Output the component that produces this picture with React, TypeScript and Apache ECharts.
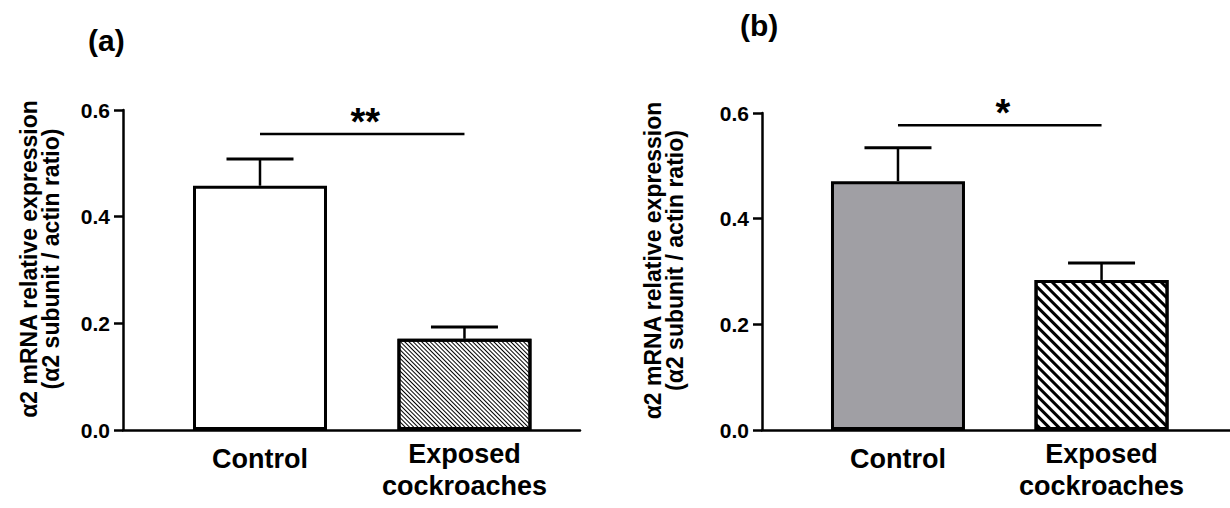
import React, { useEffect, useRef } from 'react';
import * as echarts from 'echarts';

// ---- data ----
const categories = ['Control', 'Exposed\ncockroaches'];
const categoryPositions = [1, 2];
const panelTitles = ['(a)', '(b)'];
const yTickValues = [0, 0.2, 0.4, 0.6];
const aMeans = [0.458, 0.171];
const aSem = [0.05, 0.022];
const bMeans = [0.471, 0.284];
const bSem = [0.063, 0.032];
const sigLabels = ['**', '*'];
const sigLevels = [0.555, 0.577];
const yNameLines = ['α2 mRNA relative expression', '(α2 subunit / actin ratio)'];

const FONT = "'Liberation Sans', Arial, Helvetica, sans-serif";

const fineHatch = {
  symbol: 'rect',
  symbolSize: 1,
  symbolKeepAspect: false,
  color: '#000',
  backgroundColor: '#fff',
  dashArrayX: [10, 0],
  dashArrayY: [1, 2],
  rotation: Math.PI / 4,
};
const thickHatch = {
  symbol: 'rect',
  symbolSize: 1,
  symbolKeepAspect: false,
  color: '#000',
  backgroundColor: '#fff',
  dashArrayX: [10, 0],
  dashArrayY: [3, 4],
  rotation: Math.PI / 4,
};

const panels = [
  {
    grid: { left: 123, top: 110, width: 457, height: 320 },
    xMin: 0.33,
    xMax: 2.565,
    nameGap: 61,
    means: aMeans,
    sem: aSem,
    fills: [{ color: '#ffffff' }, { color: '#ffffff', decal: fineHatch }],
  },
  {
    grid: { left: 762, top: 113, width: 468, height: 317 },
    xMin: 0.332,
    xMax: 2.631,
    nameGap: 76,
    means: bMeans,
    sem: bSem,
    fills: [{ color: '#a09fa4' }, { color: '#ffffff', decal: thickHatch }],
  },
];

function buildOption() {
  const grid: any[] = [];
  const xAxis: any[] = [];
  const yAxis: any[] = [];
  const series: any[] = [];

  panels.forEach((p, i) => {
    grid.push({ ...p.grid, containLabel: false });
    xAxis.push({
      type: 'value',
      gridIndex: i,
      min: p.xMin,
      max: p.xMax,
      splitLine: { show: false },
      axisTick: { show: false },
      axisLine: { show: true, onZero: false, lineStyle: { color: '#000', width: 2.5 } },
      axisLabel: {
        customValues: categoryPositions,
        margin: 8,
        color: '#000',
        formatter: (v: number) => {
          const idx = categoryPositions.indexOf(Math.round(v));
          if (idx < 0) return '';
          const lines = categories[idx].split('\n');
          const key = lines.length > 1 ? 'e' : 'c';
          return lines.map((l) => `{${key}|${l}}`).join('\n');
        },
        rich: {
          c: { fontSize: 27, fontWeight: 'bold', fontFamily: FONT, color: '#000', lineHeight: 42 },
          e: { fontSize: 27, fontWeight: 'bold', fontFamily: FONT, color: '#000', lineHeight: 32 },
        },
      },
    });
    yAxis.push({
      type: 'value',
      gridIndex: i,
      min: yTickValues[0],
      max: yTickValues[yTickValues.length - 1],
      interval: 0.2,
      splitLine: { show: false },
      axisLine: { show: true, lineStyle: { color: '#000', width: 2.5 } },
      axisTick: { show: true, length: 9, lineStyle: { color: '#000', width: 2.5 } },
      axisLabel: {
        margin: 13,
        formatter: (v: number) => v.toFixed(1),
        fontSize: 21,
        fontWeight: 'bold',
        fontFamily: FONT,
        color: '#000',
      },
      name: yNameLines.join('\n'),
      nameLocation: 'middle',
      nameRotate: 90,
      nameGap: p.nameGap,
      nameTextStyle: {
        fontSize: 23,
        fontWeight: 'bold',
        fontFamily: FONT,
        color: '#000',
        lineHeight: 22,
        padding: [0, 0, 0, 22],
      },
    });

    series.push({
      type: 'bar',
      xAxisIndex: i,
      yAxisIndex: i,
      barWidth: 134,
      z: 2,
      data: p.means.map((m, k) => ({
        value: [categoryPositions[k], m],
        itemStyle: { ...p.fills[k], borderColor: '#000', borderWidth: 3 },
      })),
    });

    series.push({
      type: 'custom',
      xAxisIndex: i,
      yAxisIndex: i,
      z: 3,
      data: p.means.map((m, k) => [categoryPositions[k], m, p.sem[k]]),
      renderItem: (params: any, api: any) => {
        const x = api.value(0);
        const m = api.value(1);
        const e = api.value(2);
        const base = api.coord([x, m]);
        const top = api.coord([x, m + e]);
        return {
          type: 'group',
          children: [
            {
              type: 'line',
              shape: { x1: base[0], y1: base[1], x2: top[0], y2: top[1] },
              style: { stroke: '#000', lineWidth: 2.5 },
            },
            {
              type: 'line',
              shape: { x1: top[0] - 33.5, y1: top[1], x2: top[0] + 33.5, y2: top[1] },
              style: { stroke: '#000', lineWidth: 3 },
            },
          ],
        };
      },
    });

    series.push({
      type: 'custom',
      xAxisIndex: i,
      yAxisIndex: i,
      z: 3,
      data: [[categoryPositions[0], categoryPositions[1], sigLevels[i]]],
      renderItem: (params: any, api: any) => {
        const p1 = api.coord([api.value(0), api.value(2)]);
        const p2 = api.coord([api.value(1), api.value(2)]);
        return {
          type: 'group',
          children: [
            {
              type: 'line',
              shape: { x1: p1[0], y1: p1[1], x2: p2[0], y2: p2[1] },
              style: { stroke: '#000', lineWidth: 2.5 },
            },
            {
              type: 'text',
              x: (p1[0] + p2[0]) / 2 + 3,
              y: p1[1] - 12,
              style: {
                text: sigLabels[i],
                fontSize: 38,
                fontWeight: 'bold',
                fontFamily: FONT,
                fill: '#000',
                align: 'center',
                verticalAlign: 'middle',
              },
            },
          ],
        };
      },
    });
  });

  return {
    animation: false,
    backgroundColor: '#ffffff',
    title: [
      {
        text: panelTitles[0],
        left: 88,
        top: 25,
        padding: 0,
        textStyle: { fontSize: 30, fontWeight: 'bold', fontFamily: FONT, color: '#000' },
      },
      {
        text: panelTitles[1],
        left: 740,
        top: 10,
        padding: 0,
        textStyle: { fontSize: 30, fontWeight: 'bold', fontFamily: FONT, color: '#000' },
      },
    ],
    grid,
    xAxis,
    yAxis,
    series,
  };
}

export default function App() {
  const ref = useRef<HTMLDivElement>(null);
  useEffect(() => {
    if (!ref.current) return;
    const chart = echarts.init(ref.current, undefined, { renderer: 'svg' });
    chart.setOption(buildOption() as any);
    return () => chart.dispose();
  }, []);
  return (
    <div
      ref={ref}
      style={{ position: 'fixed', left: 0, top: 0, width: 1230, height: 508, background: '#fff' }}
    />
  );
}
